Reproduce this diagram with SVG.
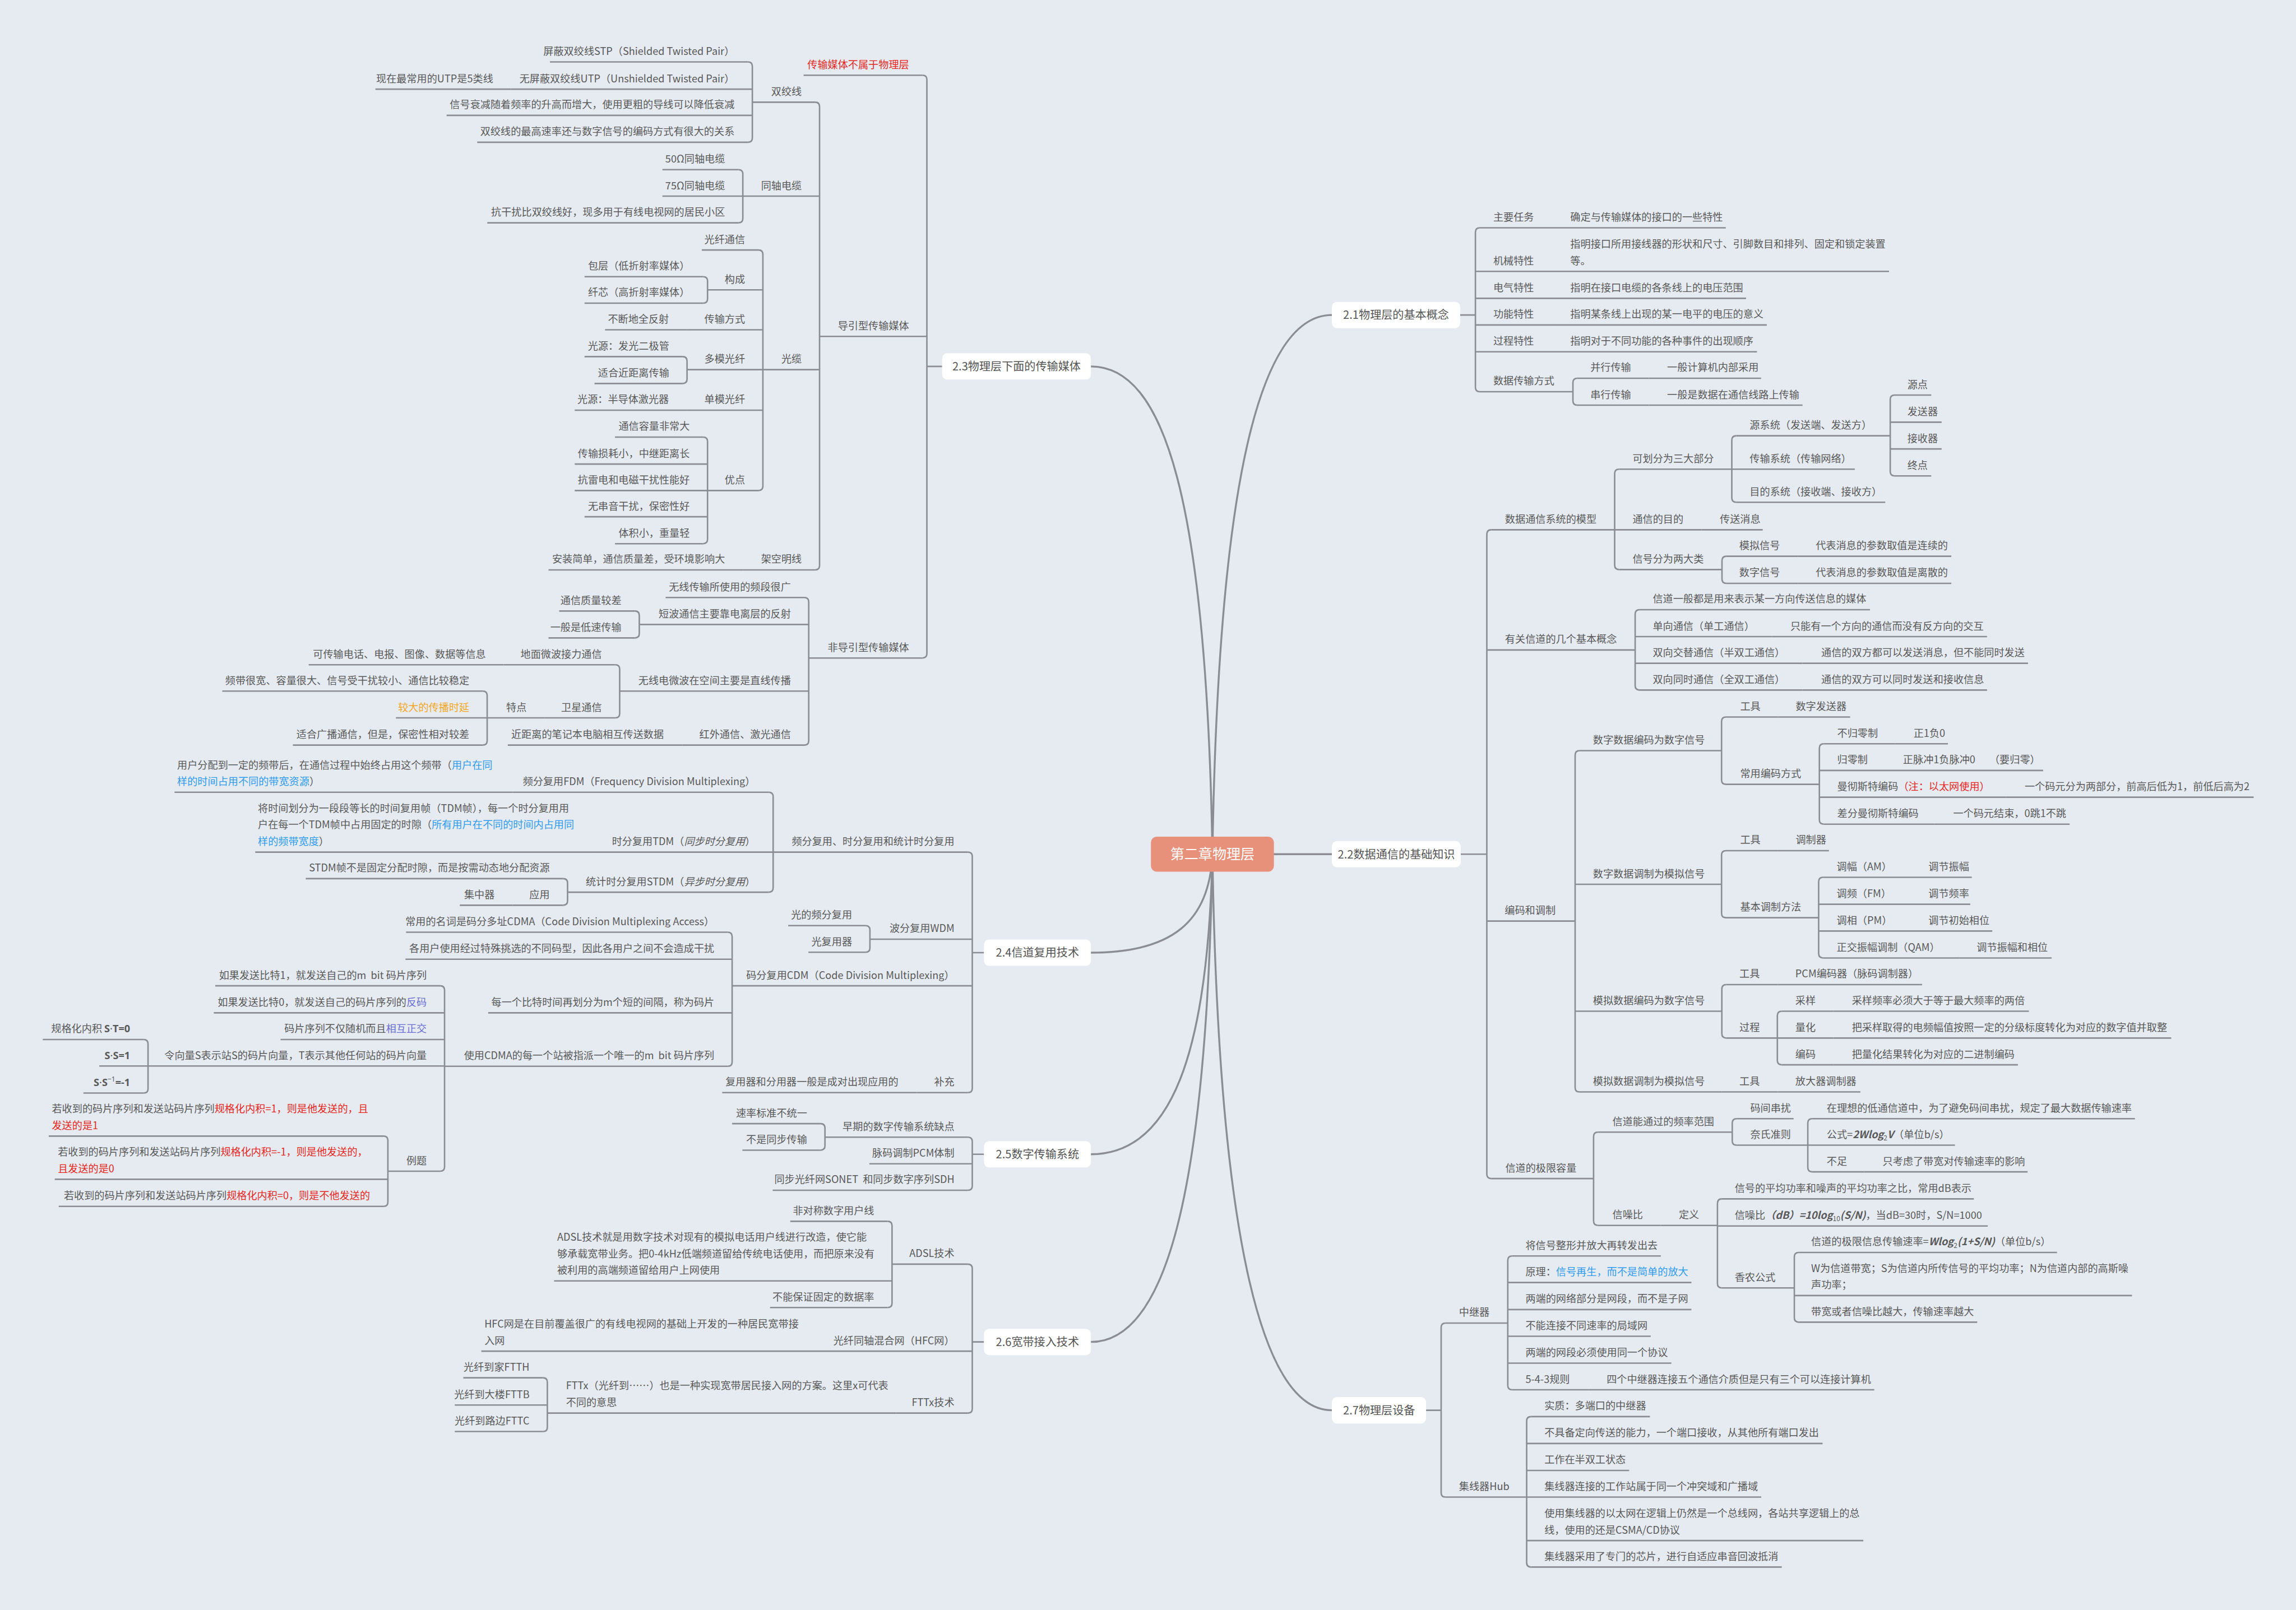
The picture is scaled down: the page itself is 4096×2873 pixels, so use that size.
<svg xmlns="http://www.w3.org/2000/svg" width="4096" height="2873" viewBox="0 0 4096 2873">
<style>
.t{font-family:"Noto Sans CJK SC","Noto Sans",sans-serif;font-size:6.95px;fill:#595959}
.e{text-anchor:end}
.l{fill:none;stroke:#8b8c94;stroke-width:1}
.c{fill:none;stroke:#8b8c94;stroke-width:1.3}
.bx{fill:#ffffff}
.mt{font-family:"Noto Sans CJK SC","Noto Sans",sans-serif;font-size:7.7px;fill:#555555;text-anchor:middle}
.r{fill:#e8261d}.b{fill:#2f9bf0}.o{fill:#f5a623}.p{fill:#6a6fd5}
.bi{font-weight:bold;font-style:italic}.bd{font-weight:bold}.it{font-style:italic}
.sm{font-size:4.6px}
.lt{font-family:"Noto Sans","DejaVu Sans",sans-serif}
</style>
<rect width="4096" height="2873" fill="#e5ebf1"/>
<g transform="scale(2.61224)">
<g id="connectors">
<path class="c" d="M828 583.5C832 330 860 215.2 909.6 215.2"/>
<path class="c" d="M828 583.5H909.6"/>
<path class="c" d="M828 583.5C832 836 860 963.4 909.6 963.4"/>
<path class="c" d="M828 583.5C824 340 795 250.3 745 250.3"/>
<path class="c" d="M828 583.5C826 630 800 650.8 745 650.8"/>
<path class="c" d="M828 583.5C825 720 800 788.5 745 788.5"/>
<path class="c" d="M828 583.5C824 820 795 916.7 745 916.7"/>
<path class="l" d="M633 250.3H643.4M664 650.8H672M664 788.5H672M664 916.7H672M997.2 215.2H1007.6M997.6 583.5H1015.4M973.9 963.4H984.2"/>
<path class="l" d="M630 51.4Q633 51.4 633 54.4L633 446.5Q633 449.5 630 449.5"/>
<path class="l" d="M556.7 69.8Q559.7 69.8 559.7 72.8L559.7 386.3Q559.7 389.3 556.7 389.3"/>
<path class="l" d="M510.8 42.3Q513.8 42.3 513.8 45.3L513.8 94.2Q513.8 97.2 510.8 97.2"/>
<path class="l" d="M504.3 115.9Q507.3 115.9 507.3 118.9L507.3 149.2Q507.3 152.2 504.3 152.2"/>
<path class="l" d="M518 170.8Q521 170.8 521 173.8L521 332.1Q521 335.1 518 335.1"/>
<path class="l" d="M480.2 189Q483.2 189 483.2 192L483.2 204.1Q483.2 207.1 480.2 207.1"/>
<path class="l" d="M466.2 243.6Q469.2 243.6 469.2 246.6L469.2 259Q469.2 262 466.2 262"/>
<path class="l" d="M480.2 298.6Q483.2 298.6 483.2 301.6L483.2 368.4Q483.2 371.4 480.2 371.4"/>
<path class="l" d="M549.3 408.2Q552.3 408.2 552.3 411.2L552.3 506Q552.3 509 549.3 509"/>
<path class="l" d="M433.6 417.4Q436.6 417.4 436.6 420.4L436.6 432.8Q436.6 435.8 433.6 435.8"/>
<path class="l" d="M420.2 454.1Q423.2 454.1 423.2 457.1L423.2 487.4Q423.2 490.4 420.2 490.4"/>
<path class="l" d="M329.7 472.1Q332.7 472.1 332.7 475.1L332.7 506Q332.7 509 329.7 509"/>
<path class="l" d="M661 582.1Q664 582.1 664 585.1L664 743.4Q664 746.4 661 746.4"/>
<path class="l" d="M525 541.2Q528 541.2 528 544.2L528 606.5Q528 609.5 525 609.5"/>
<path class="l" d="M384.6 600.2Q387.6 600.2 387.6 603.2L387.6 615.4Q387.6 618.4 384.6 618.4"/>
<path class="l" d="M591.1 632.3Q594.1 632.3 594.1 635.3L594.1 647.5Q594.1 650.5 591.1 650.5"/>
<path class="l" d="M497 636.8Q500 636.8 500 639.8L500 725.4Q500 728.4 497 728.4"/>
<path class="l" d="M300.6 673.4Q303.6 673.4 303.6 676.4L303.6 797.1Q303.6 800.1 300.6 800.1"/>
<path class="l" d="M98.1 710.1Q101.1 710.1 101.1 713.1L101.1 743.7Q101.1 746.7 98.1 746.7"/>
<path class="l" d="M261.9 776.1Q264.9 776.1 264.9 779.1L264.9 821.1Q264.9 824.1 261.9 824.1"/>
<path class="l" d="M661 776.8Q664 776.8 664 779.8L664 810.1Q664 813.1 661 813.1"/>
<path class="l" d="M560.4 767.6Q563.4 767.6 563.4 770.6L563.4 782.7Q563.4 785.7 560.4 785.7"/>
<path class="l" d="M661 863.6Q664 863.6 664 866.6L664 962.3Q664 965.3 661 965.3"/>
<path class="l" d="M606.2 834.3Q609.2 834.3 609.2 837.3L609.2 890.2Q609.2 893.2 606.2 893.2"/>
<path class="l" d="M370.8 941.2Q373.8 941.2 373.8 944.2L373.8 974.9Q373.8 977.9 370.8 977.9"/>
<path class="l" d="M1010.6 155.6Q1007.6 155.6 1007.6 158.6L1007.6 264.6Q1007.6 267.6 1010.6 267.6"/>
<path class="l" d="M1077.2 258.4Q1074.2 258.4 1074.2 261.4L1074.2 273.8Q1074.2 276.8 1077.2 276.8"/>
<path class="l" d="M1018.4 361.9Q1015.4 361.9 1015.4 364.9L1015.4 802.1Q1015.4 805.1 1018.4 805.1"/>
<path class="l" d="M1105.7 320.5Q1102.7 320.5 1102.7 323.5L1102.7 386.1Q1102.7 389.1 1105.7 389.1"/>
<path class="l" d="M1185.7 297.7Q1182.7 297.7 1182.7 300.7L1182.7 340.1Q1182.7 343.1 1185.7 343.1"/>
<path class="l" d="M1293.9 269.9Q1290.9 269.9 1290.9 272.9L1290.9 322.1Q1290.9 325.1 1293.9 325.1"/>
<path class="l" d="M1179 380Q1176 380 1176 383L1176 395.5Q1176 398.5 1179 398.5"/>
<path class="l" d="M1119.7 416.5Q1116.7 416.5 1116.7 419.5L1116.7 468.4Q1116.7 471.4 1119.7 471.4"/>
<path class="l" d="M1078.7 512.8Q1075.7 512.8 1075.7 515.8L1075.7 742.9Q1075.7 745.9 1078.7 745.9"/>
<path class="l" d="M1178.7 489.8Q1175.7 489.8 1175.7 492.8L1175.7 532.8Q1175.7 535.8 1178.7 535.8"/>
<path class="l" d="M1245.5 508.1Q1242.5 508.1 1242.5 511.1L1242.5 560Q1242.5 563 1245.5 563"/>
<path class="l" d="M1178.7 581.1Q1175.7 581.1 1175.7 584.1L1175.7 623.9Q1175.7 626.9 1178.7 626.9"/>
<path class="l" d="M1245 599.3Q1242 599.3 1242 602.3L1242 651.4Q1242 654.4 1245 654.4"/>
<path class="l" d="M1178.9 672.6Q1175.9 672.6 1175.9 675.6L1175.9 706.1Q1175.9 709.1 1178.9 709.1"/>
<path class="l" d="M1216.8 690.8Q1213.8 690.8 1213.8 693.8L1213.8 724.4Q1213.8 727.4 1216.8 727.4"/>
<path class="l" d="M1091.3 773.4Q1088.3 773.4 1088.3 776.4L1088.3 834.1Q1088.3 837.1 1091.3 837.1"/>
<path class="l" d="M1186 764.2Q1183 764.2 1183 767.2L1183 779.3Q1183 782.3 1186 782.3"/>
<path class="l" d="M1237.6 764.2Q1234.6 764.2 1234.6 767.2L1234.6 797.5Q1234.6 800.5 1237.6 800.5"/>
<path class="l" d="M1175.9 819Q1172.9 819 1172.9 822L1172.9 876.8Q1172.9 879.8 1175.9 879.8"/>
<path class="l" d="M1228.4 855.6Q1225.4 855.6 1225.4 858.6L1225.4 900.2Q1225.4 903.2 1228.4 903.2"/>
<path class="l" d="M987.2 903.8Q984.2 903.8 984.2 906.8L984.2 1019.7Q984.2 1022.7 987.2 1022.7"/>
<path class="l" d="M1032.7 858Q1029.7 858 1029.7 861L1029.7 946.4Q1029.7 949.4 1032.7 949.4"/>
<path class="l" d="M1045.6 967.7Q1042.6 967.7 1042.6 970.7L1042.6 1067.5Q1042.6 1070.5 1045.6 1070.5"/>
</g>

<g id="root"><rect x="786" y="571.5" width="84" height="24" rx="4" fill="#e8917a"/><text x="828" y="587" font-family="Noto Sans CJK SC, Noto Sans, sans-serif" font-size="9.6" fill="#ffffff" text-anchor="middle">第二章物理层</text></g>

<g id="n21"><rect class="bx" x="909.6" y="206.2" width="87.6" height="18" rx="3.5"/><text class="mt" x="953.4" y="218">2.1物理层的基本概念</text></g>
<g id="n22"><rect class="bx" x="909.6" y="574.5" width="88" height="18" rx="3.5"/><text class="mt" x="953.6" y="586.3">2.2数据通信的基础知识</text></g>
<g id="n27"><rect class="bx" x="909.6" y="954.4" width="64.3" height="18" rx="3.5"/><text class="mt" x="941.8" y="966.2">2.7物理层设备</text></g>
<g id="n23"><rect class="bx" x="643.4" y="241.3" width="101.6" height="18" rx="3.5"/><text class="mt" x="694.2" y="253.1">2.3物理层下面的传输媒体</text></g>
<g id="n24"><rect class="bx" x="672" y="641.8" width="73" height="18" rx="3.5"/><text class="mt" x="708.5" y="653.6">2.4信道复用技术</text></g>
<g id="n25"><rect class="bx" x="672" y="779.5" width="73" height="18" rx="3.5"/><text class="mt" x="708.5" y="791.3">2.5数字传输系统</text></g>
<g id="n26"><rect class="bx" x="672" y="907.7" width="73" height="18" rx="3.5"/><text class="mt" x="708.5" y="919.5">2.6宽带接入技术</text></g>

<!-- 2.3 -->
<g id="n231"><text class="t e r" x="620.8" y="46.6">传输媒体不属于物理层</text><path class="l" d="M548.8 51.4H630"/></g>
<g id="n232"><text class="t e" x="620.8" y="225">导引型传输媒体</text><path class="l" d="M559.7 229.8H633"/></g>
<g id="n233"><text class="t e" x="620.8" y="444.7">非导引型传输媒体</text><path class="l" d="M552.3 449.5H630"/></g>
<g id="n2321"><text class="t e" x="547.5" y="65">双绞线</text><path class="l" d="M513.8 69.8H556.7"/></g>
<g id="n23211"><text class="t e" x="501.6" y="37.5">屏蔽双绞线STP（Shielded Twisted Pair）</text><path class="l" d="M375.6 42.3H510.8"/></g>
<g id="n23212"><text class="t e" x="501.6" y="56.1">无屏蔽双绞线UTP（Unshielded Twisted Pair）</text><path class="l" d="M349 60.9H513.8"/></g>
<g id="n232121"><text class="t e" x="336.8" y="56.1">现在最常用的UTP是5类线</text><path class="l" d="M256.4 60.9H349"/></g>
<g id="n23213"><text class="t e" x="501.6" y="74">信号衰减随着频率的升高而增大，使用更粗的导线可以降低衰减</text><path class="l" d="M305 78.8H513.8"/></g>
<g id="n23214"><text class="t e" x="501.6" y="92.4">双绞线的最高速率还与数字信号的编码方式有很大的关系</text><path class="l" d="M325.9 97.2H510.8"/></g>
<g id="n2322"><text class="t e" x="547.5" y="129.2">同轴电缆</text><path class="l" d="M507.3 134H559.7"/></g>
<g id="n23221"><text class="t e" x="495.1" y="111.1">50Ω同轴电缆</text><path class="l" d="M452.4 115.9H504.3"/></g>
<g id="n23222"><text class="t e" x="495.1" y="129.2">75Ω同轴电缆</text><path class="l" d="M452.4 134H507.3"/></g>
<g id="n23223"><text class="t e" x="495.1" y="147.4">抗干扰比双绞线好，现多用于有线电视网的居民小区</text><path class="l" d="M332.8 152.2H504.3"/></g>
<g id="n2323"><text class="t e" x="547.5" y="247.7">光缆</text><path class="l" d="M521 252.5H559.7"/></g>
<g id="n23231"><text class="t e" x="508.8" y="166">光纤通信</text><path class="l" d="M479.3 170.8H518"/></g>
<g id="n23232"><text class="t e" x="508.8" y="193.2">构成</text><path class="l" d="M483.2 198H521"/></g>
<g id="n232321"><text class="t e" x="471" y="184.2">包层（低折射率媒体）</text><path class="l" d="M399.2 189H480.2"/></g>
<g id="n232322"><text class="t e" x="471" y="202.3">纤芯（高折射率媒体）</text><path class="l" d="M399.2 207.1H480.2"/></g>
<g id="n23233"><text class="t e" x="508.8" y="220.5">传输方式</text><path class="l" d="M469 225.3H521"/></g>
<g id="n232331"><text class="t e" x="456.8" y="220.5">不断地全反射</text><path class="l" d="M413.2 225.3H469"/></g>
<g id="n23234"><text class="t e" x="508.8" y="247.7">多模光纤</text><path class="l" d="M469.2 252.5H521"/></g>
<g id="n232341"><text class="t e" x="457" y="238.8">光源：发光二极管</text><path class="l" d="M399.2 243.6H466.2"/></g>
<g id="n232342"><text class="t e" x="457" y="257.2">适合近距离传输</text><path class="l" d="M406 262H466.2"/></g>
<g id="n23235"><text class="t e" x="508.8" y="275.4">单模光纤</text><path class="l" d="M469 280.2H521"/></g>
<g id="n232351"><text class="t e" x="456.8" y="275.4">光源：半导体激光器</text><path class="l" d="M392.5 280.2H469"/></g>
<g id="n23236"><text class="t e" x="508.8" y="330.3">优点</text><path class="l" d="M483.2 335.1H518"/></g>
<g id="n232361"><text class="t e" x="471" y="293.8">通信容量非常大</text><path class="l" d="M420 298.6H480.2"/></g>
<g id="n232362"><text class="t e" x="471" y="312.2">传输损耗小，中继距离长</text><path class="l" d="M392.5 317H483.2"/></g>
<g id="n232363"><text class="t e" x="471" y="330.3">抗雷电和电磁干扰性能好</text><path class="l" d="M392.5 335.1H483.2"/></g>
<g id="n232364"><text class="t e" x="471" y="348.2">无串音干扰，保密性好</text><path class="l" d="M399.2 353H483.2"/></g>
<g id="n232365"><text class="t e" x="471" y="366.6">体积小，重量轻</text><path class="l" d="M420 371.4H480.2"/></g>
<g id="n2324"><text class="t e" x="547.5" y="384.5">架空明线</text><path class="l" d="M507.3 389.3H556.7"/></g>
<g id="n23241"><text class="t e" x="495.1" y="384.5">安装简单，通信质量差，受环境影响大</text><path class="l" d="M374.6 389.3H507.3"/></g>
<g id="n2331"><text class="t e" x="540.1" y="403.4">无线传输所使用的频段很广</text><path class="l" d="M454.6 408.2H549.3"/></g>
<g id="n2332"><text class="t e" x="540.1" y="421.8">短波通信主要靠电离层的反射</text><path class="l" d="M436.6 426.6H552.3"/></g>
<g id="n23321"><text class="t e" x="424.4" y="412.6">通信质量较差</text><path class="l" d="M381.9 417.4H433.6"/></g>
<g id="n23322"><text class="t e" x="424.4" y="431">一般是低速传输</text><path class="l" d="M374.6 435.8H433.6"/></g>
<g id="n2333"><text class="t e" x="540.1" y="467.3">无线电微波在空间主要是直线传播</text><path class="l" d="M423.2 472.1H552.3"/></g>
<g id="n23331"><text class="t e" x="411" y="449.3">地面微波接力通信</text><path class="l" d="M344 454.1H420.2"/></g>
<g id="n233311"><text class="t e" x="331.8" y="449.3">可传输电话、电报、图像、数据等信息</text><path class="l" d="M210.8 454.1H344"/></g>
<g id="n23332"><text class="t e" x="411" y="485.6">卫星通信</text><path class="l" d="M372 490.4H420.2"/></g>
<g id="n233321"><text class="t e" x="359.6" y="485.6">特点</text><path class="l" d="M332.7 490.4H372"/></g>
<g id="n2333211"><text class="t e" x="320.5" y="467.3">频带很宽、容量很大、信号受干扰较小、通信比较稳定</text><path class="l" d="M151.8 472.1H329.7"/></g>
<g id="n2333212"><text class="t e o" x="320.5" y="485.6">较大的传播时延</text><path class="l" d="M270.4 490.4H332.7"/></g>
<g id="n2333213"><text class="t e" x="320.5" y="504.2">适合广播通信，但是，保密性相对较差</text><path class="l" d="M200 509H329.7"/></g>
<g id="n2334"><text class="t e" x="540.1" y="504.2">红外通信、激光通信</text><path class="l" d="M466 509H549.3"/></g>
<g id="n23341"><text class="t e" x="453.3" y="504.2">近距离的笔记本电脑相互传送数据</text><path class="l" d="M346.8 509H466"/></g>

<!-- 2.4 -->
<g id="n241"><text class="t e" x="651.8" y="577.3">频分复用、时分复用和统计时分复用</text><path class="l" d="M528 582.1H661"/></g>
<g id="n2411"><text class="t e" x="515.8" y="536.4">频分复用FDM（Frequency Division Multiplexing）</text><path class="l" d="M350 541.2H525"/></g>
<g id="n24111"><text class="t" x="121" y="525.05">用户分配到一定的频带后，在通信过程中始终占用这个频带（<tspan class="b">用户在同</tspan></text><text class="t" x="121" y="536.4"><tspan class="b">样的时间占用不同的带宽资源</tspan>）</text><path class="l" d="M119.2 541.2H350"/></g>
<g id="n2412"><text class="t e" x="515.8" y="577.3">时分复用TDM（<tspan class="it">同步时分复用</tspan>）</text><path class="l" d="M405 582.1H528"/></g>
<g id="n24121"><text class="t" x="176.1" y="554.6">将时间划分为一段段等长的时间复用帧（TDM帧），每一个时分复用用</text><text class="t" x="176.1" y="565.95">户在每一个TDM帧中占用固定的时隙（<tspan class="b">所有用户在不同的时间内占用同</tspan></text><text class="t" x="176.1" y="577.3"><tspan class="b">样的频带宽度</tspan>）</text><path class="l" d="M174.3 582.1H405"/></g>
<g id="n2413"><text class="t e" x="515.8" y="604.7">统计时分复用STDM（<tspan class="it">异步时分复用</tspan>）</text><path class="l" d="M387.6 609.5H525"/></g>
<g id="n24131"><text class="t e" x="375.4" y="595.4">STDM帧不是固定分配时隙，而是按需动态地分配资源</text><path class="l" d="M208.8 600.2H384.6"/></g>
<g id="n24132"><text class="t e" x="375.4" y="613.6">应用</text><path class="l" d="M350 618.4H384.6"/></g>
<g id="n241321"><text class="t e" x="337.8" y="613.6">集中器</text><path class="l" d="M314 618.4H350"/></g>
<g id="n242"><text class="t e" x="651.8" y="636.8">波分复用WDM</text><path class="l" d="M594.1 641.6H664"/></g>
<g id="n2421"><text class="t e" x="581.9" y="627.5">光的频分复用</text><path class="l" d="M538.3 632.3H591.1"/></g>
<g id="n2422"><text class="t e" x="581.9" y="645.7">光复用器</text><path class="l" d="M552.1 650.5H591.1"/></g>
<g id="n243"><text class="t e" x="651.8" y="668.6">码分复用CDM（Code Division Multiplexing）</text><path class="l" d="M500 673.4H664"/></g>
<g id="n2431"><text class="t e" x="487.8" y="632">常用的名词是码分多址CDMA（Code Division Multiplexing Access）</text><path class="l" d="M277.3 636.8H497"/></g>
<g id="n2432"><text class="t e" x="487.8" y="650.5">各用户使用经过特殊挑选的不同码型，因此各用户之间不会造成干扰</text><path class="l" d="M276.9 655.3H500"/></g>
<g id="n2433"><text class="t e" x="487.8" y="687.1">每一个比特时间再划分为m个短的间隔，称为码片</text><path class="l" d="M333.4 691.9H500"/></g>
<g id="n2434"><text class="t e" x="487.8" y="723.6">使用CDMA的每一个站被指派一个唯一的m&#160; bit 码片序列</text><path class="l" d="M303.6 728.4H497"/></g>
<g id="n24341"><text class="t e" x="291.4" y="668.6">如果发送比特1，就发送自己的m&#160; bit 码片序列</text><path class="l" d="M147 673.4H300.6"/></g>
<g id="n24342"><text class="t e" x="291.4" y="687.1">如果发送比特0，就发送自己的码片序列的<tspan class="p">反码</tspan></text><path class="l" d="M146 691.9H303.6"/></g>
<g id="n24343"><text class="t e" x="291.4" y="705.3">码片序列不仅随机而且<tspan class="p">相互正交</tspan></text><path class="l" d="M191.6 710.1H303.6"/></g>
<g id="n24344"><text class="t e" x="291.4" y="723.4">令向量S表示站S的码片向量，T表示其他任何站的码片向量</text><path class="l" d="M101.1 728.2H303.6"/></g>
<g id="n243441"><text class="t e" x="88.9" y="705.3">规格化内积&#160;<tspan class="bd lt">S</tspan><tspan class="lt">·</tspan><tspan class="bd lt">T=0</tspan></text><path class="l" d="M29.2 710.1H98.1"/></g>
<g id="n243442"><text class="t e" x="88.9" y="723.4"><tspan class="bd lt">S</tspan><tspan class="lt">·</tspan><tspan class="bd lt">S=1</tspan></text><path class="l" d="M67.8 728.2H101.1"/></g>
<g id="n243443"><text class="t e" x="88.9" y="741.9"><tspan class="bd lt">S</tspan><tspan class="lt">·</tspan><tspan class="bd lt">S</tspan><tspan class="sm lt" dy="-3">−1</tspan><tspan class="bd lt" dy="3">=-1</tspan></text><path class="l" d="M57 746.7H98.1"/></g>
<g id="n24345"><text class="t e" x="291.4" y="795.3">例题</text><path class="l" d="M264.9 800.1H300.6"/></g>
<g id="n243451"><text class="t" x="35.4" y="759.95">若收到的码片序列和发送站码片序列<tspan class="r">规格化内积=1，则是他发送的，且</tspan></text><text class="t r" x="35.4" y="771.3">发送的是1</text><path class="l" d="M33.3 776.1H261.9"/></g>
<g id="n243452"><text class="t" x="39.5" y="789.45">若收到的码片序列和发送站码片序列<tspan class="r">规格化内积=-1，则是他发送的，</tspan></text><text class="t r" x="39.5" y="800.8">且发送的是0</text><path class="l" d="M37.4 805.6H264.9"/></g>
<g id="n243453"><text class="t e" x="252.7" y="819.3">若收到的码片序列和发送站码片序列<tspan class="r">规格化内积=0，则是不他发送的</tspan></text><path class="l" d="M40.1 824.1H261.9"/></g>
<g id="n244"><text class="t e" x="651.8" y="741.6">补充</text><path class="l" d="M626 746.4H661"/></g>
<g id="n2441"><text class="t e" x="613.5" y="741.6">复用器和分用器一般是成对出现应用的</text><path class="l" d="M493.2 746.4H626"/></g>

<!-- 2.5 -->
<g id="n251"><text class="t e" x="651.8" y="772">早期的数字传输系统缺点</text><path class="l" d="M563.4 776.8H661"/></g>
<g id="n2511"><text class="t e" x="551.2" y="762.8">速率标准不统一</text><path class="l" d="M500 767.6H560.4"/></g>
<g id="n2512"><text class="t e" x="551.2" y="780.9">不是同步传输</text><path class="l" d="M507 785.7H560.4"/></g>
<g id="n252"><text class="t e" x="651.8" y="790.2">脉码调制PCM体制</text><path class="l" d="M593.7 795H664"/></g>
<g id="n253"><text class="t e" x="651.8" y="808.3">同步光纤网SONET&#160; 和同步数字序列SDH</text><path class="l" d="M527.7 813.1H661"/></g>

<!-- 2.6 -->
<g id="n261"><text class="t e" x="651.8" y="858.8">ADSL技术</text><path class="l" d="M609.2 863.6H661"/></g>
<g id="n2611"><text class="t e" x="597" y="829.5">非对称数字用户线</text><path class="l" d="M539.7 834.3H606.2"/></g>
<g id="n2612"><text class="t" x="380.5" y="847.5">ADSL技术就是用数字技术对现有的模拟电话用户线进行改造，使它能</text><text class="t" x="380.5" y="858.85">够承载宽带业务。把0-4kHz低端频道留给传统电话使用，而把原来没有</text><text class="t" x="380.5" y="870.2">被利用的高端频道留给用户上网使用</text><path class="l" d="M378.4 875H609.2"/></g>
<g id="n2613"><text class="t e" x="597" y="888.4">不能保证固定的数据率</text><path class="l" d="M525.9 893.2H606.2"/></g>
<g id="n262"><text class="t e" x="651.8" y="918.2">光纤同轴混合网（HFC网）</text><path class="l" d="M557 923H664"/></g>
<g id="n2621"><text class="t" x="330.8" y="906.85">HFC网是在目前覆盖很广的有线电视网的基础上开发的一种居民宽带接</text><text class="t" x="330.8" y="918.2">入网</text><path class="l" d="M328.7 923H557"/></g>
<g id="n263"><text class="t e" x="651.8" y="960.5">FTTx技术</text><path class="l" d="M612 965.3H661"/></g>
<g id="n2631"><text class="t" x="386.5" y="949.15">FTTx（光纤到……）也是一种实现宽带居民接入网的方案。这里x可代表</text><text class="t" x="386.5" y="960.5">不同的意思</text><path class="l" d="M373.8 965.3H612"/></g>
<g id="n26311"><text class="t e" x="361.6" y="936.4">光纤到家FTTH</text><path class="l" d="M316.4 941.2H370.8"/></g>
<g id="n26312"><text class="t e" x="361.6" y="955">光纤到大楼FTTB</text><path class="l" d="M310.6 959.8H373.8"/></g>
<g id="n26313"><text class="t e" x="361.6" y="973.1">光纤到路边FTTC</text><path class="l" d="M310.6 977.9H370.8"/></g>

<!-- 2.1 -->
<g id="n211"><text class="t" x="1019.8" y="150.8">主要任务</text><path class="l" d="M1010.6 155.6H1060"/></g>
<g id="n2111"><text class="t" x="1072.4" y="150.8">确定与传输媒体的接口的一些特性</text><path class="l" d="M1060 155.6H1178.6"/></g>
<g id="n212"><text class="t" x="1019.8" y="180.6">机械特性</text><path class="l" d="M1007.6 185.4H1060"/></g>
<g id="n2121"><text class="t" x="1072.4" y="169.25">指明接口所用接线器的形状和尺寸、引脚数目和排列、固定和锁定装置</text><text class="t" x="1072.4" y="180.6">等。</text><path class="l" d="M1060 185.4H1290.1"/></g>
<g id="n213"><text class="t" x="1019.8" y="199">电气特性</text><path class="l" d="M1007.6 203.8H1060"/></g>
<g id="n2131"><text class="t" x="1072.4" y="199">指明在接口电缆的各条线上的电压范围</text><path class="l" d="M1060 203.8H1192.4"/></g>
<g id="n214"><text class="t" x="1019.8" y="217.2">功能特性</text><path class="l" d="M1007.6 222H1060"/></g>
<g id="n2141"><text class="t" x="1072.4" y="217.2">指明某条线上出现的某一电平的电压的意义</text><path class="l" d="M1060 222H1206.6"/></g>
<g id="n215"><text class="t" x="1019.8" y="235.5">过程特性</text><path class="l" d="M1007.6 240.3H1060"/></g>
<g id="n2151"><text class="t" x="1072.4" y="235.5">指明对于不同功能的各种事件的出现顺序</text><path class="l" d="M1060 240.3H1199.9"/></g>
<g id="n216"><text class="t" x="1019.8" y="262.8">数据传输方式</text><path class="l" d="M1010.6 267.6H1074.2"/></g>
<g id="n2161"><text class="t" x="1086.1" y="253.6">并行传输</text><path class="l" d="M1077.2 258.4H1126"/></g>
<g id="n21611"><text class="t" x="1138.5" y="253.6">一般计算机内部采用</text><path class="l" d="M1126 258.4H1202.7"/></g>
<g id="n2162"><text class="t" x="1086.1" y="272">串行传输</text><path class="l" d="M1077.2 276.8H1126"/></g>
<g id="n21621"><text class="t" x="1138.5" y="272">一般是数据在通信线路上传输</text><path class="l" d="M1126 276.8H1231"/></g>

<!-- 2.2 -->
<g id="n221"><text class="t" x="1027.8" y="357.1">数据通信系统的模型</text><path class="l" d="M1018.4 361.9H1102.7"/></g>
<g id="n2211"><text class="t" x="1114.9" y="315.7">可划分为三大部分</text><path class="l" d="M1105.7 320.5H1182.7"/></g>
<g id="n22111"><text class="t" x="1194.9" y="292.9">源系统（发送端、发送方）</text><path class="l" d="M1185.7 297.7H1290.9"/></g>
<g id="n221111"><text class="t" x="1302.6" y="265.1">源点</text><path class="l" d="M1293.9 269.9H1318.9"/></g>
<g id="n221112"><text class="t" x="1302.6" y="283.6">发送器</text><path class="l" d="M1290.9 288.4H1326"/></g>
<g id="n221113"><text class="t" x="1302.6" y="301.9">接收器</text><path class="l" d="M1290.9 306.7H1326"/></g>
<g id="n221114"><text class="t" x="1302.6" y="320.3">终点</text><path class="l" d="M1293.9 325.1H1318.9"/></g>
<g id="n22112"><text class="t" x="1194.9" y="315.7">传输系统（传输网络）</text><path class="l" d="M1182.7 320.5H1266.7"/></g>
<g id="n22113"><text class="t" x="1194.9" y="338.3">目的系统（接收端、接收方）</text><path class="l" d="M1185.7 343.1H1287.5"/></g>
<g id="n2212"><text class="t" x="1114.9" y="357.1">通信的目的</text><path class="l" d="M1102.7 361.9H1162"/></g>
<g id="n22121"><text class="t" x="1174.5" y="357.1">传送消息</text><path class="l" d="M1162 361.9H1203.8"/></g>
<g id="n2213"><text class="t" x="1114.9" y="384.3">信号分为两大类</text><path class="l" d="M1105.7 389.1H1176"/></g>
<g id="n22131"><text class="t" x="1187.8" y="375.2">模拟信号</text><path class="l" d="M1179 380H1228"/></g>
<g id="n221311"><text class="t" x="1240" y="375.2">代表消息的参数取值是连续的</text><path class="l" d="M1228 380H1332.6"/></g>
<g id="n22132"><text class="t" x="1187.8" y="393.7">数字信号</text><path class="l" d="M1179 398.5H1228"/></g>
<g id="n221321"><text class="t" x="1240" y="393.7">代表消息的参数取值是离散的</text><path class="l" d="M1228 398.5H1332.6"/></g>
<g id="n222"><text class="t" x="1027.8" y="439.2">有关信道的几个基本概念</text><path class="l" d="M1015.4 444H1116.7"/></g>
<g id="n2221"><text class="t" x="1128.7" y="411.7">信道一般都是用来表示某一方向传送信息的媒体</text><path class="l" d="M1119.7 416.5H1277.1"/></g>
<g id="n2222"><text class="t" x="1128.7" y="430.1">单向通信（单工通信）</text><path class="l" d="M1116.7 434.9H1210"/></g>
<g id="n22221"><text class="t" x="1222.7" y="430.1">只能有一个方向的通信而没有反方向的交互</text><path class="l" d="M1210 434.9H1357"/></g>
<g id="n2223"><text class="t" x="1128.7" y="448.3">双向交替通信（半双工通信）</text><path class="l" d="M1116.7 453.1H1231"/></g>
<g id="n22231"><text class="t" x="1243.8" y="448.3">通信的双方都可以发送消息，但不能同时发送</text><path class="l" d="M1231 453.1H1385"/></g>
<g id="n2224"><text class="t" x="1128.7" y="466.6">双向同时通信（全双工通信）</text><path class="l" d="M1119.7 471.4H1231"/></g>
<g id="n22241"><text class="t" x="1243.8" y="466.6">通信的双方可以同时发送和接收信息</text><path class="l" d="M1231 471.4H1357"/></g>
<g id="n223"><text class="t" x="1027.6" y="624.4">编码和调制</text><path class="l" d="M1015.4 629.2H1075.7"/></g>
<g id="n2231"><text class="t" x="1087.9" y="508">数字数据编码为数字信号</text><path class="l" d="M1078.7 512.8H1175.7"/></g>
<g id="n22311"><text class="t" x="1188.4" y="485">工具</text><path class="l" d="M1178.7 489.8H1214"/></g>
<g id="n223111"><text class="t" x="1226.3" y="485">数字发送器</text><path class="l" d="M1214 489.8H1263.5"/></g>
<g id="n22312"><text class="t" x="1188.4" y="531">常用编码方式</text><path class="l" d="M1178.7 535.8H1242.5"/></g>
<g id="n223121"><text class="t" x="1254.7" y="503.3">不归零制</text><path class="l" d="M1245.5 508.1H1294"/></g>
<g id="n2231211"><text class="t" x="1306.8" y="503.3">正1负0</text><path class="l" d="M1294 508.1H1330.3"/></g>
<g id="n223122"><text class="t" x="1254.7" y="521.5">归零制</text><path class="l" d="M1242.5 526.3H1287"/></g>
<g id="n2231221"><text class="t" x="1299.6" y="521.5">正脉冲1负脉冲0<tspan x="1358.6">（要归零）</tspan></text><path class="l" d="M1287 526.3H1395.3"/></g>
<g id="n223123"><text class="t" x="1254.7" y="539.8">曼彻斯特编码<tspan class="r">（注：以太网使用）</tspan></text><path class="l" d="M1242.5 544.6H1370"/></g>
<g id="n2231231"><text class="t" x="1382.7" y="539.8">一个码元分为两部分，前高后低为1，前低后高为2</text><path class="l" d="M1370 544.6H1539.1"/></g>
<g id="n223124"><text class="t" x="1254.7" y="558.2">差分曼彻斯特编码</text><path class="l" d="M1245.5 563H1321"/></g>
<g id="n2231241"><text class="t" x="1333.9" y="558.2">一个码元结束，0跳1不跳</text><path class="l" d="M1321 563H1413.4"/></g>
<g id="n2232"><text class="t" x="1087.9" y="599.3">数字数据调制为模拟信号</text><path class="l" d="M1075.7 604.1H1175.7"/></g>
<g id="n22321"><text class="t" x="1188.4" y="576.3">工具</text><path class="l" d="M1178.7 581.1H1214"/></g>
<g id="n223211"><text class="t" x="1226.3" y="576.3">调制器</text><path class="l" d="M1214 581.1H1249"/></g>
<g id="n22322"><text class="t" x="1188.4" y="622.1">基本调制方法</text><path class="l" d="M1178.7 626.9H1242"/></g>
<g id="n223221"><text class="t" x="1254.3" y="594.5">调幅（AM）</text><path class="l" d="M1245 599.3H1305"/></g>
<g id="n2232211"><text class="t" x="1317" y="594.5">调节振幅</text><path class="l" d="M1305 599.3H1346.6"/></g>
<g id="n223222"><text class="t" x="1254.3" y="612.9">调频（FM）</text><path class="l" d="M1242 617.7H1305"/></g>
<g id="n2232221"><text class="t" x="1317" y="612.9">调节频率</text><path class="l" d="M1305 617.7H1345.5"/></g>
<g id="n223223"><text class="t" x="1254.3" y="631.2">调相（PM）</text><path class="l" d="M1242 636H1305"/></g>
<g id="n2232231"><text class="t" x="1317" y="631.2">调节初始相位</text><path class="l" d="M1305 636H1360.6"/></g>
<g id="n223224"><text class="t" x="1254.3" y="649.6">正交振幅调制（QAM）</text><path class="l" d="M1245 654.4H1338"/></g>
<g id="n2232241"><text class="t" x="1349.9" y="649.6">调节振幅和相位</text><path class="l" d="M1338 654.4H1401.1"/></g>
<g id="n2233"><text class="t" x="1087.9" y="686">模拟数据编码为数字信号</text><path class="l" d="M1075.7 690.8H1175.9"/></g>
<g id="n22331"><text class="t" x="1187.9" y="667.8">工具</text><path class="l" d="M1178.9 672.6H1214"/></g>
<g id="n223311"><text class="t" x="1226.1" y="667.8">PCM编码器（脉码调制器）</text><path class="l" d="M1214 672.6H1312.7"/></g>
<g id="n22332"><text class="t" x="1187.9" y="704.3">过程</text><path class="l" d="M1178.9 709.1H1213.8"/></g>
<g id="n223321"><text class="t" x="1226.1" y="686">采样</text><path class="l" d="M1216.8 690.8H1252"/></g>
<g id="n2233211"><text class="t" x="1264.7" y="686">采样频率必须大于等于最大频率的两倍</text><path class="l" d="M1252 690.8H1385.6"/></g>
<g id="n223322"><text class="t" x="1226.1" y="704.3">量化</text><path class="l" d="M1213.8 709.1H1252"/></g>
<g id="n2233221"><text class="t" x="1264.7" y="704.3">把采样取得的电频幅值按照一定的分级标度转化为对应的数字值并取整</text><path class="l" d="M1252 709.1H1482.8"/></g>
<g id="n223323"><text class="t" x="1226.1" y="722.6">编码</text><path class="l" d="M1216.8 727.4H1252"/></g>
<g id="n2233231"><text class="t" x="1264.7" y="722.6">把量化结果转化为对应的二进制编码</text><path class="l" d="M1252 727.4H1378.1"/></g>
<g id="n2234"><text class="t" x="1087.9" y="741.1">模拟数据调制为模拟信号</text><path class="l" d="M1078.7 745.9H1175.9"/></g>
<g id="n22341"><text class="t" x="1187.9" y="741.1">工具</text><path class="l" d="M1175.9 745.9H1214"/></g>
<g id="n223411"><text class="t" x="1226.1" y="741.1">放大器调制器</text><path class="l" d="M1214 745.9H1270.5"/></g>
<g id="n224"><text class="t" x="1028" y="800.3">信道的极限容量</text><path class="l" d="M1018.4 805.1H1088.3"/></g>
<g id="n2241"><text class="t" x="1101.2" y="768.6">信道能通过的频率范围</text><path class="l" d="M1091.3 773.4H1183"/></g>
<g id="n22411"><text class="t" x="1195.3" y="759.4">码间串扰</text><path class="l" d="M1186 764.2H1224.9"/></g>
<g id="n22412"><text class="t" x="1195.3" y="777.5">奈氏准则</text><path class="l" d="M1186 782.3H1234.6"/></g>
<g id="n224121"><text class="t" x="1247.5" y="759.4">在理想的低通信道中，为了避免码间串扰，规定了最大数据传输速率</text><path class="l" d="M1237.6 764.2H1458"/></g>
<g id="n224122"><text class="t" x="1247.5" y="777.5">公式=<tspan class="bi">2Wlog</tspan><tspan class="sm" dy="1.6">2</tspan><tspan class="bi" dy="-1.6">V</tspan>（单位b/s）</text><path class="l" d="M1234.6 782.3H1335.1"/></g>
<g id="n224123"><text class="t" x="1247.5" y="795.7">不足</text><path class="l" d="M1237.6 800.5H1273"/></g>
<g id="n2241231"><text class="t" x="1285.7" y="795.7">只考虑了带宽对传输速率的影响</text><path class="l" d="M1273 800.5H1384.7"/></g>
<g id="n2242"><text class="t" x="1101.2" y="832.3">信噪比</text><path class="l" d="M1091.3 837.1H1134"/></g>
<g id="n22421"><text class="t" x="1146.5" y="832.3">定义</text><path class="l" d="M1134 837.1H1172.9"/></g>
<g id="n224211"><text class="t" x="1184.7" y="814.2">信号的平均功率和噪声的平均功率之比，常用dB表示</text><path class="l" d="M1175.9 819H1348"/></g>
<g id="n224212"><text class="t" x="1184.7" y="832.7">信噪比<tspan class="bi">（dB）=10log</tspan><tspan class="sm" dy="1.6">10</tspan><tspan class="bi" dy="-1.6">(S/N)</tspan>，当dB=30时，S/N=1000</text><path class="l" d="M1172.9 837.5H1357.5"/></g>
<g id="n224213"><text class="t" x="1184.7" y="875">香农公式</text><path class="l" d="M1175.9 879.8H1225.4"/></g>
<g id="n2242131"><text class="t" x="1236.9" y="850.8">信道的极限信息传输速率=<tspan class="bi">Wlog</tspan><tspan class="sm" dy="1.6">2</tspan><tspan class="bi" dy="-1.6">(1+S/N)</tspan>（单位b/s）</text><path class="l" d="M1228.4 855.6H1404.8"/></g>
<g id="n2242132"><text class="t" x="1236.9" y="868.85">W为信道带宽；S为信道内所传信号的平均功率；N为信道内部的高斯噪</text><text class="t" x="1236.9" y="880.2">声功率；</text><path class="l" d="M1225.4 885H1456"/></g>
<g id="n2242133"><text class="t" x="1236.9" y="898.4">带宽或者信噪比越大，传输速率越大</text><path class="l" d="M1228.4 903.2H1350.3"/></g>

<!-- 2.7 -->
<g id="n271"><text class="t" x="996.4" y="899">中继器</text><path class="l" d="M987.2 903.8H1029.7"/></g>
<g id="n2711"><text class="t" x="1041.8" y="853.2">将信号整形并放大再转发出去</text><path class="l" d="M1032.7 858H1134.2"/></g>
<g id="n2712"><text class="t" x="1041.8" y="871.3">原理：<tspan class="b">信号再生，而不是简单的放大</tspan></text><path class="l" d="M1029.7 876.1H1155.1"/></g>
<g id="n2713"><text class="t" x="1041.8" y="889.8">两端的网络部分是网段，而不是子网</text><path class="l" d="M1029.7 894.6H1155.1"/></g>
<g id="n2714"><text class="t" x="1041.8" y="908">不能连接不同速率的局域网</text><path class="l" d="M1029.7 912.8H1127.3"/></g>
<g id="n2715"><text class="t" x="1041.8" y="926.4">两端的网段必须使用同一个协议</text><path class="l" d="M1029.7 931.2H1141.4"/></g>
<g id="n2716"><text class="t" x="1041.8" y="944.6">5-4-3规则</text><path class="l" d="M1032.7 949.4H1085"/></g>
<g id="n27161"><text class="t" x="1097.2" y="944.6">四个中继器连接五个通信介质但是只有三个可以连接计算机</text><path class="l" d="M1085 949.4H1280"/></g>
<g id="n272"><text class="t" x="996.4" y="1017.9">集线器Hub</text><path class="l" d="M987.2 1022.7H1042.6"/></g>
<g id="n2721"><text class="t" x="1054.7" y="962.9">实质：多端口的中继器</text><path class="l" d="M1045.6 967.7H1126.8"/></g>
<g id="n2722"><text class="t" x="1054.7" y="981.3">不具备定向传送的能力，一个端口接收，从其他所有端口发出</text><path class="l" d="M1042.6 986.1H1244.7"/></g>
<g id="n2723"><text class="t" x="1054.7" y="999.7">工作在半双工状态</text><path class="l" d="M1042.6 1004.5H1112.6"/></g>
<g id="n2724"><text class="t" x="1054.7" y="1017.9">集线器连接的工作站属于同一个冲突域和广播域</text><path class="l" d="M1042.6 1022.7H1202.8"/></g>
<g id="n2725"><text class="t" x="1054.7" y="1036.25">使用集线器的以太网在逻辑上仍然是一个总线网，各站共享逻辑上的总</text><text class="t" x="1054.7" y="1047.6">线，使用的还是CSMA/CD协议</text><path class="l" d="M1042.6 1052.4H1272.5"/></g>
<g id="n2726"><text class="t" x="1054.7" y="1065.7">集线器采用了专门的芯片，进行自适应串音回波抵消</text><path class="l" d="M1045.6 1070.5H1216.8"/></g>
</g>
</svg>
